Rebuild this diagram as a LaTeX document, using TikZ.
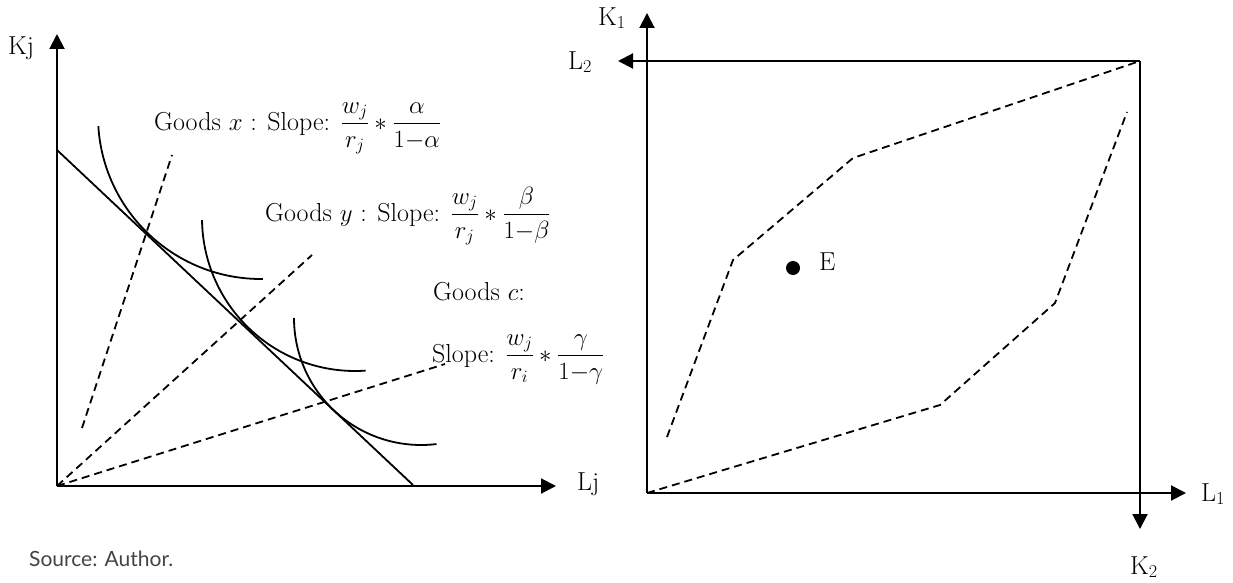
\documentclass[tikz,border=0pt]{standalone}
\usepackage{amsmath}
\usepackage{fontspec}
\newfontfamily\srcfont{Lato}
\usetikzlibrary{arrows.meta}
\definecolor{srcgray}{HTML}{444444}
\begin{document}
\begin{tikzpicture}[x=1pt,y=-1pt,
  axis/.style={line width=2pt,-{Triangle[length=15pt,width=15pt]}},
  dsh/.style={line width=1.8pt,dash pattern=on 8pt off 5pt},
  iso/.style={line width=1.8pt},
  lbl/.style={font=\fontsize{26}{30}\selectfont,inner sep=0pt},
]
\useasboundingbox (0,0) rectangle (1233,583);
% ---------- left diagram ----------
\coordinate (O) at (57,486);
\coordinate (Ytip) at (57,34);
\coordinate (Xtip) at (556,486);
\draw[axis] (O) -- (Ytip);
\draw[axis] (O) -- (Xtip);
\node[lbl] (Kj) at (21,48) {Kj};
\node[lbl,anchor=west] (Lj) at (577,484) {Lj};
% budget line
\coordinate (B1) at (57,150);
\coordinate (B2) at (413,485);
\draw[iso] (B1) -- (B2);
% rays
\coordinate (D1a) at (82,428);
\coordinate (D1b) at (172,155);
\coordinate (D2b) at (312,255);
\coordinate (D3b) at (445,364);
\draw[dsh] (D1a) -- (D1b);
\draw[dsh] (O) -- (D2b);
\draw[dsh] (O) -- (D3b);
% isoquants
\coordinate (C1) at (261,116);
\coordinate (C2) at (355,218);
\coordinate (C3) at (421,318);
\draw[iso] (C1) ++(176.4:163) arc[start angle=176.4,end angle=89.3,radius=163];
\draw[iso] (C2) ++(179.2:153) arc[start angle=179.2,end angle=86,radius=153];
\draw[iso] (C3) ++(180:127) arc[start angle=180,end angle=83,radius=127];
% labels
\node[lbl,anchor=base west] (gx) at (154,130) {Goods $x$ : Slope: $\dfrac{w_j}{r_j}*\dfrac{\alpha}{1{-}\alpha}$};
\node[lbl,anchor=base west] (gy) at (265,221) {Goods $y$ : Slope: $\dfrac{w_j}{r_j}*\dfrac{\beta}{1{-}\beta}$};
\node[lbl,anchor=base west] (gc) at (433,300) {Goods $c$:};
\node[lbl,anchor=base west] (sc) at (432,362) {Slope: $\dfrac{w_j}{r_i}*\dfrac{\gamma}{1{-}\gamma}$};
\node[anchor=base west,inner sep=0pt,font=\srcfont\fontsize{21}{25}\selectfont,text=srcgray] (src) at (29,566) {Source: Author.};
% ---------- right diagram (Edgeworth box) ----------
\coordinate (BL) at (647,493);
\coordinate (TR) at (1140,61);
\coordinate (K1tip) at (647,13);
\coordinate (L2tip) at (618,61);
\coordinate (K2tip) at (1140,529);
\coordinate (L1tip) at (1186,493);
\draw[axis] (BL) -- (K1tip);
\draw[axis] (BL) -- (L1tip);
\draw[axis] (TR) -- (L2tip);
\draw[axis] (TR) -- (K2tip);
\node[lbl] (K1) at (612,18) {K\textsubscript{1}};
\node[lbl] (L2) at (580,62) {L\textsubscript{2}};
\node[lbl] (L1) at (1213,494) {L\textsubscript{1}};
\node[lbl] (K2) at (1144,567) {K\textsubscript{2}};
% contract-curve bounds
\coordinate (U1) at (667,437);
\coordinate (U2) at (733,260);
\coordinate (U3) at (853,158);
\coordinate (W1) at (940,405);
\coordinate (W2) at (1055,303);
\coordinate (W3) at (1127,112);
\draw[dsh] (U1) -- (U2) -- (U3) -- (TR);
\draw[dsh] (BL) -- (W1) -- (W2) -- (W3);
% point E
\fill (793,268) circle[radius=7];
\node[lbl,anchor=west] (E) at (819,262) {E};
\end{tikzpicture}
\end{document}
